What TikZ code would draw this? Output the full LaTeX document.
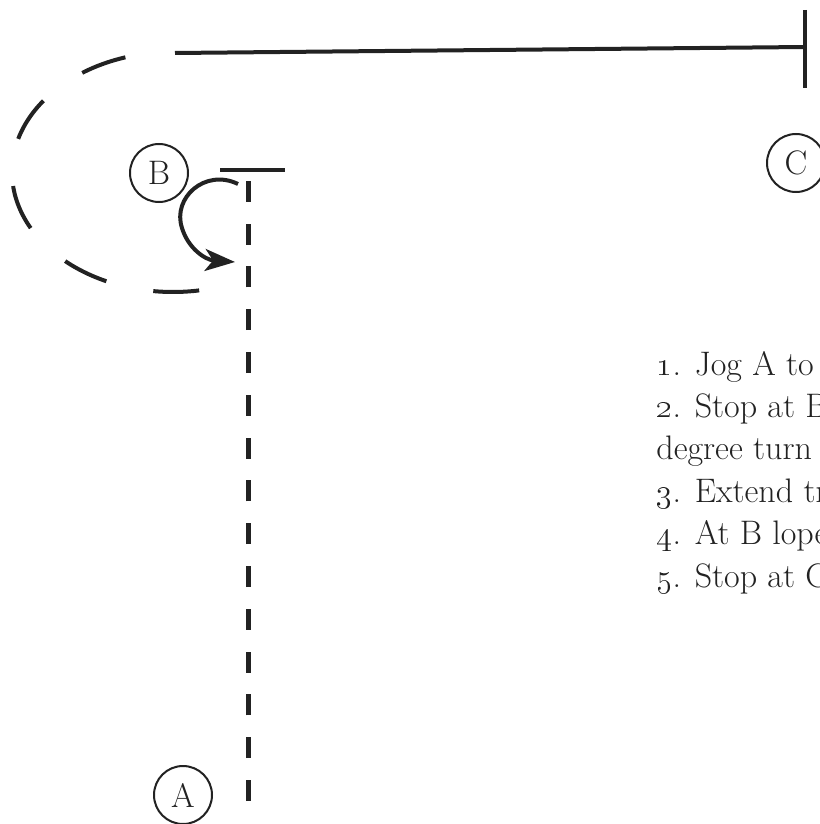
\documentclass[tikz,border=0pt]{standalone}
\usetikzlibrary{arrows.meta, positioning}

\definecolor{ink}{HTML}{222222}

\tikzset{
    station/.style={circle, draw=ink, line width=1pt, minimum size=29pt,
        inner sep=0pt, text=ink, font=\fontsize{17}{20}\selectfont},
    stepline/.style={anchor=base west, inner sep=0pt, text=ink,
        font=\fontsize{17}{21}\selectfont},
    rail/.style={draw=ink, line width=2pt},
    lope/.style={draw=ink, line width=2pt, dash pattern=on 23pt off 24pt,
        dash phase=23pt},
    jog/.style={draw=ink, line width=2.5pt, dash pattern=on 10.5pt off 10.9pt},
}

\begin{document}
\begin{tikzpicture}[x=0.5pt, y=-0.5pt]

    \useasboundingbox (0,0) rectangle (819,824);

    \node[station]   (A) at (183,795) {A};
    \node[station]   (B) at (159,173) {B};
    \node[station]   (C) at (796,163) {C};

    \coordinate (jogstart) at (248,801);
    \coordinate (jogend)   at (248,180);
    \coordinate (stopL)    at (220,170);
    \coordinate (stopR)    at (285,170);
    \coordinate (turnS)    at (238,184);
    \coordinate (turnE)    at (235,262);
    \coordinate (lopetop)  at (173,52);
    \coordinate (railL)    at (175,53);
    \coordinate (railR)    at (805,47);
    \coordinate (barT)     at (805,10);
    \coordinate (barB)     at (805,88);

    \path[jog]  (jogstart) -- (jogend);
    \path[rail] (stopL) -- (stopR);
    \draw[ink, line width=2pt, -{Stealth[length=15pt, width=11pt, inset=4pt]}]
        (turnS) .. controls (205,168) and (172,198) .. (182,228)
        .. controls (188,248) and (205,260) .. (turnE);

    \path[lope] (lopetop) arc[start angle=270, end angle=79,
        x radius=161, y radius=120];
    \path[rail] (railL) -- (railR);
    \path[rail] (barT) -- (barB);

    \node[stepline] (s1) at (656,375) {\oldstylenums{1}. Jog A to C};
    \node[stepline] (s2) [below=21.2pt of s1.base west, anchor=base west]
        {\oldstylenums{2}. Stop at B};
    \node[stepline] (s3) [below=21.2pt of s2.base west, anchor=base west]
        {degree turn};
    \node[stepline] (s4) [below=21.2pt of s3.base west, anchor=base west]
        {\oldstylenums{3}. Extend trot};
    \node[stepline] (s5) [below=21.2pt of s4.base west, anchor=base west]
        {\oldstylenums{4}. At B lope};
    \node[stepline] (s6) [below=21.2pt of s5.base west, anchor=base west]
        {\oldstylenums{5}. Stop at C};

\end{tikzpicture}
\end{document}
